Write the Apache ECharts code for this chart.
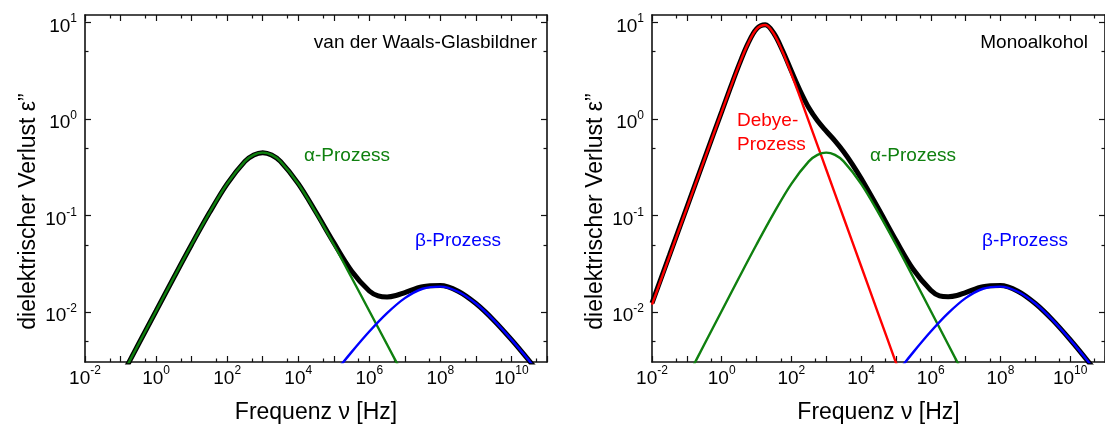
<!DOCTYPE html>
<html>
<head>
<meta charset="utf-8">
<script src="https://cdn.jsdelivr.net/npm/echarts@6/dist/echarts.min.js"></script>
<style>
  html, body { margin: 0; padding: 0; background: #fff; }
  #chart { width: 1105px; height: 430px; }
</style>
</head>
<body>
<div id="chart"></div>
<script>
// frequency [Hz] and dielectric loss

// left panel: van der Waals glass former
const vdwFreq = [0.0316, 0.1, 0.316, 1, 3.16, 10, 31.6, 100, 316, 562, 1000, 1780, 3160, 1e4, 3.16e4, 1e5, 3.16e5, 1e6, 1.78e6, 3.16e6, 5.62e6, 1e7, 3.16e7, 1e8, 3.16e8, 1e9, 3.16e9, 1e10, 3.16e10, 1e11];
const vdwLoss = [0.00093, 0.00207, 0.00463, 0.0103, 0.0229, 0.0503, 0.107, 0.214, 0.365, 0.426, 0.450, 0.426, 0.365, 0.215, 0.1085, 0.0526, 0.0268, 0.0166, 0.0148, 0.0144, 0.0149, 0.0160, 0.0184, 0.0189, 0.0165, 0.0123, 0.00828, 0.00520, 0.00314, 0.00184];

// alpha and beta process (same in both panels)
const alphaFreq = [0.0316, 0.1, 0.316, 1, 3.16, 10, 31.6, 100, 316, 562, 1000, 1780, 3160, 1e4, 3.16e4, 1e5, 3.16e5, 1e6, 3.16e6, 1e7, 3.16e7];
const alphaLoss = [0.00093, 0.00207, 0.00463, 0.0103, 0.0229, 0.0503, 0.107, 0.214, 0.365, 0.426, 0.450, 0.426, 0.365, 0.214, 0.107, 0.0503, 0.0229, 0.0103, 0.00463, 0.00207, 0.00093];
const betaFreq = [3.16e4, 1e5, 3.16e5, 1e6, 3.16e6, 1e7, 3.16e7, 1e8, 3.16e8, 1e9, 3.16e9, 1e10, 3.16e10, 1e11];
const betaLoss = [0.00133, 0.00229, 0.00386, 0.00631, 0.00979, 0.0140, 0.0175, 0.0184, 0.0163, 0.0123, 0.00828, 0.00520, 0.00314, 0.00184];

// right panel: monoalcohol
const monoFreq = [0.01, 0.0316, 0.1, 0.316, 1, 1.78, 3.16, 5.62, 10, 17.8, 31.6, 56.2, 100, 178, 316, 562, 1000, 1780, 3160, 5620, 1e4, 3.16e4, 1e5, 3.16e5, 1e6, 1.78e6, 3.16e6, 5.62e6, 1e7, 3.16e7, 1e8, 3.16e8, 1e9, 3.16e9, 1e10, 3.16e10, 1e11];
const monoLoss = [0.0124, 0.0388, 0.122, 0.384, 1.20, 2.12, 3.67, 6.02, 8.62, 9.51, 7.72, 5.11, 3.15, 1.97, 1.31, 0.961, 0.751, 0.596, 0.460, 0.341, 0.244, 0.118, 0.0556, 0.0277, 0.0169, 0.0148, 0.0145, 0.0149, 0.0160, 0.0184, 0.0189, 0.0165, 0.0123, 0.00828, 0.00520, 0.00314, 0.00184];
const debyeFreq = [0.01, 0.0316, 0.1, 0.316, 1, 1.78, 3.16, 5.62, 10, 17.8, 31.6, 56.2, 100, 178, 316, 562, 1000, 3160, 1e4, 3.16e4, 1e5, 3.16e5];
const debyeLoss = [0.0120, 0.0379, 0.120, 0.379, 1.19, 2.11, 3.65, 5.99, 8.57, 9.44, 7.61, 4.96, 2.94, 1.68, 0.950, 0.535, 0.301, 0.0952, 0.0301, 0.00952, 0.00301, 0.00095];

// axis ticks
const xMajorTicks = [0.01, 0.1, 1, 10, 100, 1e3, 1e4, 1e5, 1e6, 1e7, 1e8, 1e9, 1e10, 1e11];
const xMinorTicks = [0.05, 0.5, 5, 50, 500, 5e3, 5e4, 5e5, 5e6, 5e7, 5e8, 5e9, 5e10];
const xTickLabels = [0.01, 1, 100, 1e4, 1e6, 1e8, 1e10];
const yMajorTicks = [0.01, 0.1, 1, 10];
const yMinorTicks = [0.005, 0.05, 0.5, 5];
const yTickLabels = [0.01, 0.1, 1, 10];

const FONT = 'Liberation Sans';
const GREEN = '#0f800f';
const BLUE = '#0000ff';
const RED = '#ff0000';
const AXIS = '#111';

function pairs(xs, ys) {
    return xs.map((x, i) => [x, ys[i]]);
}

function powerLabel(value) {
    const e = Math.round(Math.log10(value));
    return '{b|10}{s|' + e + '}';
}

const labelRich = {
    b: { fontSize: 19, fontFamily: FONT, color: '#000', lineHeight: 19, padding: [8, 0, 0, 0] },
    s: { fontSize: 12, fontFamily: FONT, color: '#000', lineHeight: 12, verticalAlign: 'top' }
};

const lineAxis = { show: true, onZero: false, lineStyle: { color: AXIS, width: 1.6 } };
const tickLine = { color: AXIS, width: 1.2 };

function makeAxes(gridIndex, dim) {
    const isX = dim === 'x';
    const base = {
        type: 'log', logBase: 10, gridIndex: gridIndex,
        min: isX ? 0.01 : 0.00305, max: isX ? 1e11 : 12,
        splitLine: { show: false },
        axisLine: { show: false, onZero: false },
        axisLabel: { show: false },
        axisTick: { show: false }
    };
    const major = isX ? xMajorTicks : yMajorTicks;
    const minor = isX ? xMinorTicks : yMinorTicks;
    const sides = isX ? ['bottom', 'top'] : ['left', 'right'];
    const axes = [];
    sides.forEach((side, k) => {
        const main = Object.assign({}, base, {
            position: side,
            axisLine: lineAxis,
            axisTick: { show: true, inside: true, length: 6, customValues: major, lineStyle: tickLine }
        });
        if (k === 0) {
            main.axisLabel = {
                show: true, customValues: isX ? xTickLabels : yTickLabels,
                formatter: powerLabel, rich: labelRich, margin: isX ? 3 : 8
            };
            main.nameLocation = 'middle';
            main.nameTextStyle = { fontSize: 23, fontFamily: FONT, color: '#000' };
            if (isX) {
                main.name = 'Frequenz \u03bd [Hz]';
                main.nameGap = 39;
            } else {
                main.name = 'dielektrischer Verlust \u03b5\u201d';
                main.nameGap = 45;
                main.nameTextStyle.padding = [0, 46, 0, 0];
            }
        }
        axes.push(main);
        axes.push(Object.assign({}, base, {
            position: side,
            axisTick: { show: true, inside: true, length: 3.5, customValues: minor, lineStyle: tickLine }
        }));
    });
    return axes;
}

function curve(freq, loss, color, width, axisIndex) {
    return {
        type: 'line',
        data: pairs(freq, loss),
        xAxisIndex: axisIndex, yAxisIndex: axisIndex,
        showSymbol: false, symbol: 'none',
        smooth: 0.35,
        lineStyle: { color: color, width: width },
        silent: true
    };
}

function note(x, y, text, color, align) {
    return {
        type: 'text', x: x, y: y,
        style: { text: text, fill: color, align: align || 'left', verticalAlign: 'middle',
                 font: '19px "' + FONT + '"' }
    };
}

const chart = echarts.init(document.getElementById('chart'), null, { renderer: 'canvas' });

chart.setOption({
    backgroundColor: '#fff',
    animation: false,
    grid: [
        { left: 85, top: 15, width: 462, height: 347 },
        { left: 652, top: 15, width: 462, height: 347 }
    ],
    xAxis: makeAxes(0, 'x').concat(makeAxes(1, 'x')),
    yAxis: makeAxes(0, 'y').concat(makeAxes(1, 'y')),
    series: [
        curve(vdwFreq, vdwLoss, '#000', 5, 0),
        curve(alphaFreq, alphaLoss, GREEN, 2.4, 0),
        curve(betaFreq, betaLoss, BLUE, 2.4, 0),
        curve(monoFreq, monoLoss, '#000', 5, 4),
        curve(debyeFreq, debyeLoss, RED, 2.4, 4),
        curve(alphaFreq, alphaLoss, GREEN, 2.4, 4),
        curve(betaFreq, betaLoss, BLUE, 2.4, 4)
    ],
    graphic: [
        note(537, 43, 'van der Waals-Glasbildner', '#000', 'right'),
        note(1088, 43, 'Monoalkohol', '#000', 'right'),
        note(304, 156, '\u03b1-Prozess', GREEN),
        note(415, 241, '\u03b2-Prozess', BLUE),
        note(737, 121, 'Debye-', RED),
        note(737, 145, 'Prozess', RED),
        note(870, 156, '\u03b1-Prozess', GREEN),
        note(982, 241, '\u03b2-Prozess', BLUE)
    ]
});
</script>
</body>
</html>
